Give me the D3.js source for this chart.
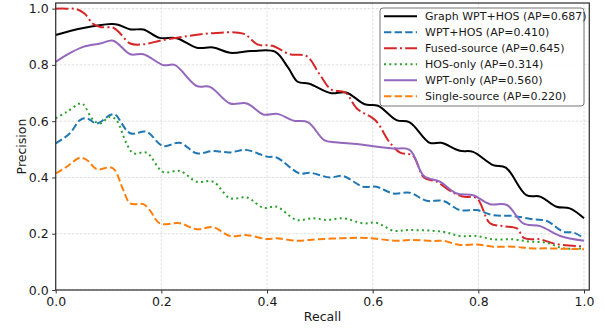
<!DOCTYPE html>
<html>
<head>
<meta charset="utf-8">
<script src="https://cdn.jsdelivr.net/npm/d3@7"></script>
<style>
  body { margin: 0; background: white; }
  svg { font-family: "DejaVu Sans", sans-serif; }
</style>
</head>
<body>
<div id="chart"></div>
<script>
// series names, AP values and colours (legend order)
var seriesNames = ["Graph WPT+HOS", "WPT+HOS", "Fused-source", "HOS-only", "WPT-only", "Single-source"];
var seriesAP = ["0.687", "0.410", "0.645", "0.314", "0.560", "0.220"];
var seriesColors = ["#000000", "#1f77b4", "#d62728", "#2ca02c", "#9467bd", "#ff7f0e"];
var seriesDash = ["", "7.4,3.2", "12.8,3.2,2,3.2", "2,3.3", "", "7.4,3.2"];

// curves (recall, precision)
var graphRecall = [0, 0.05, 0.105, 0.118, 0.142, 0.166, 0.197, 0.229, 0.267, 0.298, 0.33, 0.37, 0.415, 0.44, 0.458, 0.48, 0.52, 0.55, 0.585, 0.61, 0.645, 0.67, 0.708, 0.73, 0.765, 0.79, 0.828, 0.852, 0.891, 0.917, 0.948, 0.973, 1.0];
var graphPrec = [0.906, 0.93, 0.945, 0.943, 0.926, 0.926, 0.896, 0.895, 0.861, 0.862, 0.843, 0.849, 0.847, 0.79, 0.74, 0.733, 0.70, 0.702, 0.66, 0.655, 0.604, 0.596, 0.523, 0.523, 0.495, 0.491, 0.444, 0.435, 0.337, 0.332, 0.296, 0.29, 0.255];

var wptHosRecall = [0, 0.027, 0.046, 0.059, 0.078, 0.103, 0.112, 0.141, 0.172, 0.203, 0.235, 0.267, 0.298, 0.33, 0.36, 0.4, 0.418, 0.462, 0.481, 0.519, 0.544, 0.582, 0.607, 0.639, 0.67, 0.702, 0.733, 0.765, 0.797, 0.828, 0.866, 0.904, 0.929, 0.961, 0.98, 1.0];
var wptHosPrec = [0.521, 0.557, 0.604, 0.61, 0.592, 0.622, 0.624, 0.557, 0.562, 0.512, 0.523, 0.486, 0.494, 0.489, 0.498, 0.474, 0.471, 0.414, 0.417, 0.40, 0.405, 0.367, 0.367, 0.343, 0.346, 0.317, 0.317, 0.284, 0.284, 0.266, 0.263, 0.251, 0.246, 0.207, 0.204, 0.184];

var fusedRecall = [0, 0.02, 0.04, 0.055, 0.07, 0.084, 0.109, 0.122, 0.141, 0.166, 0.197, 0.241, 0.292, 0.355, 0.383, 0.41, 0.443, 0.475, 0.50, 0.522, 0.548, 0.57, 0.605, 0.632, 0.652, 0.676, 0.697, 0.721, 0.746, 0.77, 0.797, 0.822, 0.847, 0.873, 0.887, 0.917, 0.948, 1.0];
var fusedPrec = [1.0, 1.0, 0.998, 0.982, 0.947, 0.935, 0.932, 0.912, 0.876, 0.873, 0.886, 0.90, 0.912, 0.911, 0.872, 0.868, 0.838, 0.831, 0.765, 0.712, 0.702, 0.645, 0.603, 0.525, 0.488, 0.478, 0.40, 0.385, 0.353, 0.332, 0.326, 0.237, 0.227, 0.219, 0.184, 0.18, 0.163, 0.155];

var hosRecall = [0, 0.021, 0.046, 0.052, 0.071, 0.084, 0.103, 0.115, 0.134, 0.147, 0.172, 0.203, 0.235, 0.267, 0.298, 0.33, 0.362, 0.393, 0.418, 0.456, 0.487, 0.513, 0.544, 0.582, 0.607, 0.639, 0.67, 0.733, 0.765, 0.797, 0.828, 0.866, 0.898, 0.929, 0.961, 1.0];
var hosPrec = [0.61, 0.633, 0.663, 0.66, 0.604, 0.592, 0.616, 0.604, 0.521, 0.486, 0.488, 0.42, 0.423, 0.385, 0.385, 0.326, 0.329, 0.292, 0.296, 0.249, 0.255, 0.249, 0.255, 0.237, 0.239, 0.211, 0.213, 0.207, 0.192, 0.192, 0.18, 0.18, 0.172, 0.168, 0.148, 0.148];

var wptRecall = [0, 0.025, 0.052, 0.084, 0.109, 0.141, 0.166, 0.204, 0.225, 0.267, 0.292, 0.33, 0.362, 0.393, 0.42, 0.45, 0.478, 0.508, 0.53, 0.57, 0.601, 0.639, 0.67, 0.697, 0.727, 0.759, 0.79, 0.822, 0.854, 0.885, 0.917, 0.955, 1.0];
var wptPrec = [0.811, 0.84, 0.864, 0.876, 0.886, 0.838, 0.838, 0.799, 0.80, 0.725, 0.722, 0.663, 0.663, 0.624, 0.626, 0.602, 0.596, 0.533, 0.525, 0.519, 0.511, 0.503, 0.498, 0.405, 0.385, 0.343, 0.337, 0.305, 0.302, 0.237, 0.227, 0.192, 0.175];

var singleRecall = [0, 0.021, 0.046, 0.059, 0.078, 0.103, 0.112, 0.128, 0.141, 0.166, 0.178, 0.197, 0.235, 0.267, 0.298, 0.33, 0.362, 0.4, 0.418, 0.456, 0.494, 0.544, 0.589, 0.645, 0.677, 0.714, 0.733, 0.765, 0.797, 0.828, 0.866, 0.898, 0.929, 1.0];
var singlePrec = [0.414, 0.438, 0.47, 0.462, 0.429, 0.436, 0.426, 0.355, 0.308, 0.305, 0.284, 0.237, 0.237, 0.216, 0.223, 0.192, 0.195, 0.181, 0.184, 0.175, 0.18, 0.184, 0.185, 0.175, 0.178, 0.174, 0.175, 0.16, 0.162, 0.154, 0.154, 0.148, 0.148, 0.145];

var xTicks = [0, 0.2, 0.4, 0.6, 0.8, 1.0];
var yTicks = [0, 0.2, 0.4, 0.6, 0.8, 1.0];

var allRecall = [graphRecall, wptHosRecall, fusedRecall, hosRecall, wptRecall, singleRecall];
var allPrec = [graphPrec, wptHosPrec, fusedPrec, hosPrec, wptPrec, singlePrec];

// dimensions
var margin = {top: 3, right: 15.7, bottom: 38, left: 55.7},
  width = 605 - margin.left - margin.right,
  height = 328 - margin.top - margin.bottom;

var svg = d3.select("#chart")
.append("svg")
  .attr("width", 605)
  .attr("height", 328)
.append("g")
  .attr("transform", "translate(" + margin.left + "," + margin.top + ")");

var x = d3.scaleLinear().domain([0, 1.01]).range([0, width]);
var y = d3.scaleLinear().domain([0, 1.02]).range([height, 0]);

// grid
svg.append("g").selectAll("line").data(xTicks).enter().append("line")
  .attr("x1", function(d) { return x(d); }).attr("x2", function(d) { return x(d); })
  .attr("y1", 0).attr("y2", height)
  .style("stroke", "#d8d8d8").style("stroke-width", 0.8).style("stroke-dasharray", "2.5,1.5");
svg.append("g").selectAll("line").data(yTicks).enter().append("line")
  .attr("y1", function(d) { return y(d); }).attr("y2", function(d) { return y(d); })
  .attr("x1", 0).attr("x2", width)
  .style("stroke", "#d8d8d8").style("stroke-width", 0.8).style("stroke-dasharray", "2.5,1.5");

// curves (smooth spline through the read points)
var line = d3.line()
  .x(function(d) { return x(d[0]); })
  .y(function(d) { return y(d[1]); })
  .curve(d3.curveCatmullRom.alpha(0.5));

seriesNames.forEach(function(name, i) {
  var pts = allRecall[i].map(function(r, j) { return [r, allPrec[i][j]]; });
  svg.append("path")
    .datum(pts)
    .attr("d", line)
    .style("fill", "none")
    .style("stroke", seriesColors[i])
    .style("stroke-width", 2)
    .style("stroke-dasharray", seriesDash[i]);
});

// axes
var xAxis = svg.append("g")
  .attr("transform", "translate(0," + height + ")")
  .call(d3.axisBottom(x).tickValues(xTicks).tickFormat(d3.format(".1f")).tickSize(3.5).tickPadding(3.5));
var yAxis = svg.append("g")
  .call(d3.axisLeft(y).tickValues(yTicks).tickFormat(d3.format(".1f")).tickSize(3.5).tickPadding(3.5));
[xAxis, yAxis].forEach(function(a) {
  a.select(".domain").remove();
  a.selectAll("line").style("stroke", "#333");
  a.selectAll("text").style("font-size", "12.5px").style("fill", "#1a1a1a")
    .style("font-family", "DejaVu Sans");
});

// frame
svg.append("rect")
  .attr("x", 0).attr("y", 0).attr("width", width).attr("height", height)
  .style("fill", "none").style("stroke", "#333").style("stroke-width", 1.25);

// axis titles
svg.append("text")
  .attr("x", width / 2).attr("y", 321 - margin.top)
  .style("text-anchor", "middle").style("font-size", "12.5px").style("fill", "#1a1a1a")
  .text("Recall");
svg.append("text")
  .attr("transform", "translate(" + (26 - margin.left) + "," + (height / 2) + ") rotate(-90)")
  .style("text-anchor", "middle").style("font-size", "12.5px").style("fill", "#1a1a1a")
  .text("Precision");

// legend
var legend = svg.append("g").attr("transform", "translate(" + (380 - margin.left) + "," + (8 - margin.top) + ")");
legend.append("rect")
  .attr("width", 204).attr("height", 98).attr("rx", 3)
  .style("fill", "white").style("fill-opacity", 0.9)
  .style("stroke", "#777").style("stroke-width", 1);
seriesNames.forEach(function(name, i) {
  var cy = 8.3 + i * 16;
  legend.append("line")
    .attr("x1", 4).attr("x2", 37).attr("y1", cy).attr("y2", cy)
    .style("stroke", seriesColors[i]).style("stroke-width", 2)
    .style("stroke-dasharray", seriesDash[i]);
  legend.append("text")
    .attr("x", 45).attr("y", cy).attr("dy", "0.36em")
    .style("font-size", "11px").style("fill", "#1a1a1a")
    .text(name + " (AP=" + seriesAP[i] + ")");
});
</script>
</body>
</html>
